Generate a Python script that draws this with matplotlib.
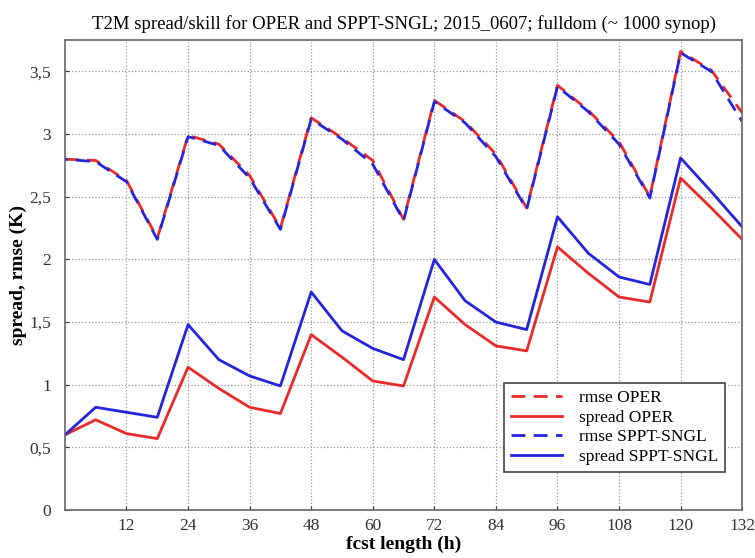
import numpy as np
import matplotlib.pyplot as plt
from matplotlib.lines import Line2D
from matplotlib.ticker import FuncFormatter

# forecast lead times (h), every 6 hours
hours = list(range(0, 133, 6))

rmse_oper = [2.80, 2.79, 2.63, 2.17, 2.99, 2.92, 2.67, 2.25, 3.13, 2.97, 2.79, 2.32,
             3.27, 3.10, 2.84, 2.41, 3.39, 3.19, 2.94, 2.50, 3.66, 3.51, 3.17]
spread_oper = [0.60, 0.72, 0.61, 0.57, 1.14, 0.97, 0.82, 0.77, 1.40, 1.22, 1.03, 0.99,
               1.70, 1.48, 1.31, 1.27, 2.10, 1.89, 1.70, 1.66, 2.65, 2.41, 2.16]
rmse_sppt = [2.80, 2.78, 2.62, 2.16, 2.98, 2.91, 2.65, 2.24, 3.12, 2.96, 2.76, 2.31,
             3.26, 3.09, 2.82, 2.40, 3.38, 3.18, 2.92, 2.49, 3.65, 3.50, 3.10]
spread_sppt = [0.60, 0.82, 0.78, 0.74, 1.48, 1.20, 1.07, 0.99, 1.74, 1.43, 1.29, 1.20,
               2.00, 1.67, 1.50, 1.44, 2.34, 2.05, 1.86, 1.80, 2.81, 2.54, 2.26]

xticks = [12, 24, 36, 48, 60, 72, 84, 96, 108, 120, 132]
yticks = [0, 0.5, 1, 1.5, 2, 2.5, 3, 3.5]

plt.rcParams['font.family'] = ['Liberation Serif', 'DejaVu Serif']

rouge = '#e82a2a'
bleu = '#2424dc'
tirets = (5, 3)

fig = plt.figure(figsize=(7.55, 5.58), dpi=100)
ax = fig.add_axes([0.086, 0.086, 0.897, 0.842])

ax.plot(hours, rmse_oper, color=rouge, lw=2, linestyle=(0, tirets))
ax.plot(hours, spread_oper, color=rouge, lw=2)
# blue dashes shifted a bit so the red one shows through the gaps
ax.plot(hours, rmse_sppt, color=bleu, lw=2, linestyle=(4, tirets))
ax.plot(hours, spread_sppt, color=bleu, lw=2)

ax.set_xlim(0, 132)
ax.set_ylim(0, 3.75)
ax.set_xticks(xticks)
ax.set_yticks(yticks)
ax.yaxis.set_major_formatter(FuncFormatter(lambda v, p: ('%g' % v).replace('.', ',')))
ax.tick_params(direction='in', length=3, labelsize=12.5, colors='#333333', pad=6)
ax.tick_params(axis='y', pad=10)
ax.grid(True, linestyle=':', color='#999999', lw=0.9)

for s in ax.spines.values():
    s.set_color('#666666')
    s.set_linewidth(1.2)

ax.set_xlabel('fcst length (h)', fontsize=14, fontweight='bold', labelpad=1)
ax.set_ylabel('spread, rmse (K)', fontsize=14, fontweight='bold', labelpad=2)
ax.set_title('T2M spread/skill for OPER and SPPT-SNGL; 2015_0607; fulldom (~ 1000 synop)',
             fontsize=13.5, pad=8)

poignees = [
    Line2D([], [], color=rouge, lw=2, linestyle=(0, tirets)),
    Line2D([], [], color=rouge, lw=2),
    Line2D([], [], color=bleu, lw=2, linestyle=(0, tirets)),
    Line2D([], [], color=bleu, lw=2),
]
noms = ['rmse OPER', 'spread OPER', 'rmse SPPT-SNGL', 'spread SPPT-SNGL']
leg = ax.legend(poignees, noms, loc='lower right', bbox_to_anchor=(0.975, 0.081),
                borderaxespad=0, fontsize=12.5, fancybox=False, framealpha=1,
                edgecolor='#444444', handlelength=2.9, labelspacing=0.2,
                borderpad=0.4, handletextpad=1.0)
leg.get_frame().set_linewidth(1.2)

fig.savefig('out.png', dpi=100)
